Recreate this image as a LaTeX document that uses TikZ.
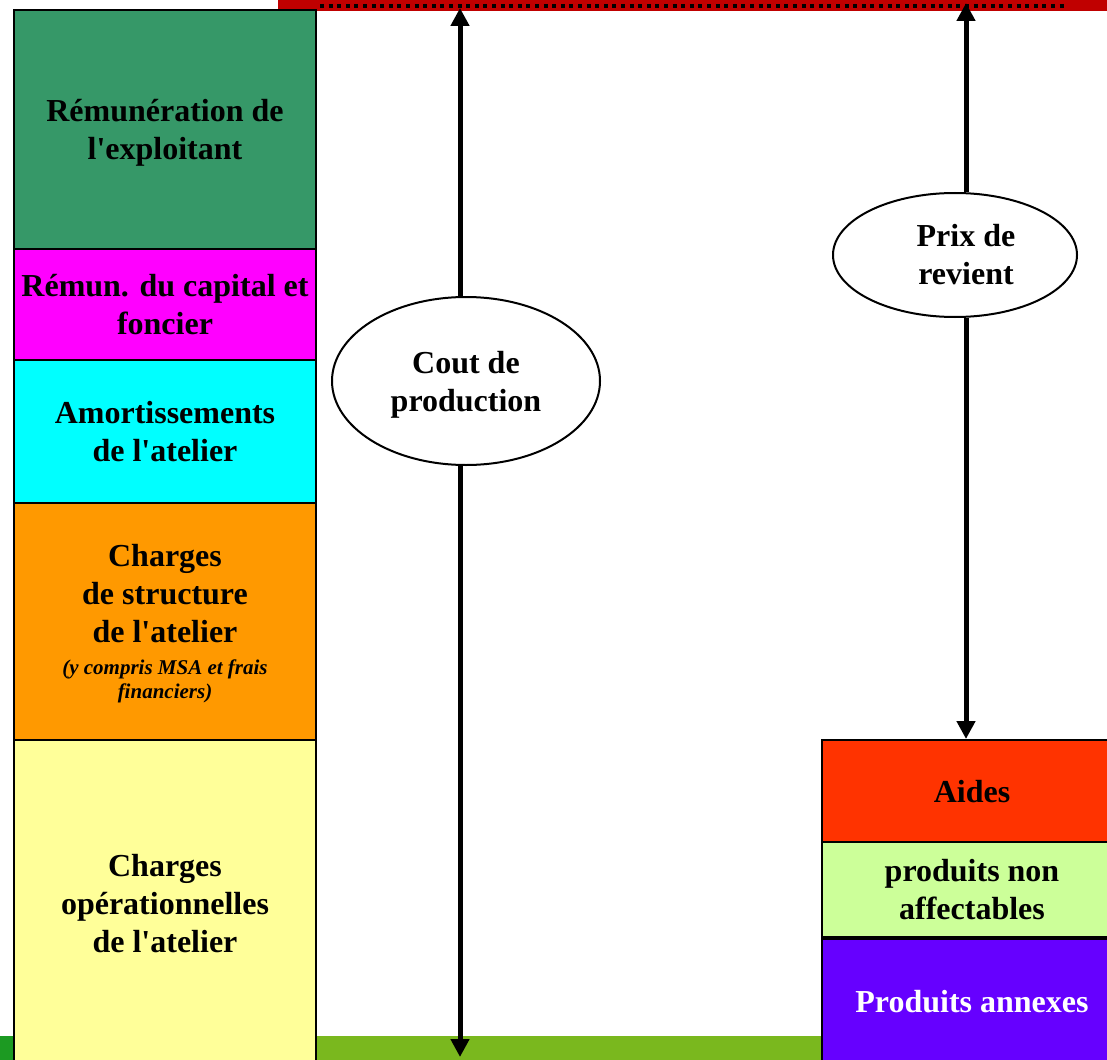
\documentclass[tikz,border=0pt]{standalone}
\usepackage{fontspec}
\setmainfont{Liberation Serif}
\usepackage{tikz}
\usetikzlibrary{arrows.meta, positioning, shapes.geometric}
\definecolor{exploitGreen}{HTML}{369868}
\definecolor{capMagenta}{HTML}{FF00FF}
\definecolor{amortCyan}{HTML}{00FFFF}
\definecolor{structOrange}{HTML}{FF9900}
\definecolor{operYellow}{HTML}{FFFF99}
\definecolor{aidesRed}{HTML}{FF3300}
\definecolor{nonaffGreen}{HTML}{CCFF99}
\definecolor{annexViolet}{HTML}{6600FF}
\definecolor{topRed}{HTML}{C00000}
\definecolor{floorGreen}{HTML}{7AB81E}
\definecolor{floorDark}{HTML}{1C9A22}
\newcommand{\notefont}{\fontsize{21}{24}\selectfont\itshape}
\newcommand{\ap}{\textquotesingle}

\begin{document}
\begin{tikzpicture}[x=1pt, y=-1pt, >={Triangle[width=18pt,length=18pt]},
    colbox/.style={draw, line width=2pt, inner sep=0pt, minimum width=302pt, align=center,
        text depth=-3pt, font=\bfseries\fontsize{32}{38}\selectfont},
    sidebox/.style={colbox, minimum width=300pt},
    bubble/.style={ellipse, draw, line width=2pt, fill=white, inner sep=0pt, align=center,
        text depth=-3pt, font=\bfseries\fontsize{32}{38}\selectfont},
    span/.style={line width=5pt}]
    \useasboundingbox (0,0) rectangle (1107,1059);

    % bandes haut et bas
    \fill[topRed] (278,0) rectangle (1110,11);
    \draw[line width=4pt, dash pattern=on 4pt off 4.6pt] (320,6) -- (1065,6);
    \fill[floorGreen] (0,1036) rectangle (822,1062);
    \fill[floorDark] (0,1036) rectangle (14,1062);

    % colonne des charges
    \node[colbox, fill=exploitGreen, minimum height=239pt] (exploit) at (165,129.5)
        {R\'emun\'eration de\\l\ap exploitant};
    \node[colbox, fill=capMagenta, minimum height=111pt] (capital) at (165,304.5)
        {R\'emun. du capital et\\foncier};
    \node[colbox, fill=amortCyan, minimum height=143pt] (amort) at (165,431.5)
        {Amortissements\\de l\ap atelier};
    \node[colbox, fill=structOrange, minimum height=237pt] (struct) at (165,621.5)
        {Charges\\de structure\\de l\ap atelier\\[-6pt]
        \notefont (y compris MSA et frais\\[-14pt]\notefont financiers)};
    \node[colbox, fill=operYellow, minimum height=326pt] (oper) at (165,903)
        {Charges\\op\'erationnelles\\de l\ap atelier};

    % colonne des produits
    \node[sidebox, fill=aidesRed, minimum height=102pt] (aides) at (972,791) {Aides};
    \node[sidebox, fill=nonaffGreen, minimum height=95pt] (nonaff) at (972,889.5)
        {produits non\\affectables};
    \node[sidebox, fill=annexViolet, minimum height=129pt, text=white] (annexes) at (972,1001.5)
        {Produits annexes};
    \draw[line width=4pt] (nonaff.south west) -- (nonaff.south east);

    % fleches
    \coordinate (coutTop) at (460,8);
    \coordinate (coutBot) at (460,1057);
    \coordinate (prixTop) at (966,3);
    \node[bubble, minimum width=268pt, minimum height=168pt] (cout) at (466,381)
        {Cout de\\production};
    \node[bubble, minimum width=244pt, minimum height=124pt,
        label={[align=center, xshift=11pt, font=\bfseries\fontsize{32}{38}\selectfont]center:Prix de\\revient}]
        (prix) at (955,255) {};

    \draw[->, span] (cout.north -| coutTop) -- (coutTop);
    \draw[->, span] (cout.south -| coutBot) -- (coutBot);
    \draw[->, span] (prix.north -| prixTop) -- (prixTop);
    \draw[->, span] (prix.south -| prixTop) -- (aides.north -| prixTop);
\end{tikzpicture}
\end{document}
